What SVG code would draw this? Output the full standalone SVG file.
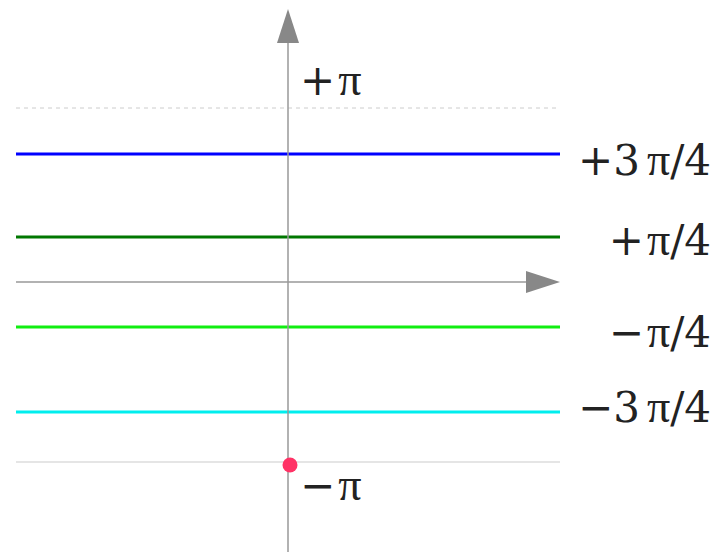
<svg xmlns="http://www.w3.org/2000/svg" width="713" height="552" viewBox="0 0 713 552">
<style>
.lbl{font-family:"DejaVu Serif",serif;fill:#222;font-size:42px}
.pi{font-family:"Liberation Serif",serif;font-size:46px}
.lvl{stroke-width:3;fill:none}
.ax{stroke:#999;stroke-width:1.5;fill:none}
</style>
<defs>
<marker id="ah" viewBox="0 0 34 22" refX="0" refY="11" markerWidth="34" markerHeight="22" markerUnits="userSpaceOnUse" orient="auto">
<path d="M0,0 L34,11 L0,22 Z" fill="#888"/>
</marker>
</defs>
<g id="grid">
<line x1="16" y1="108" x2="560" y2="108" stroke="#ccc" stroke-width="1" stroke-dasharray="4,4"/>
<line x1="16" y1="462" x2="560" y2="462" stroke="#ccc" stroke-width="1.2"/>
</g>
<g id="levels">
<line id="l3p4" class="lvl" x1="16" y1="154" x2="560" y2="154" stroke="#0000ff"/>
<line id="lp4" class="lvl" x1="16" y1="237" x2="560" y2="237" stroke="#007700"/>
<line id="lm4" class="lvl" x1="16" y1="327" x2="560" y2="327" stroke="#11ee11"/>
<line id="lm3p4" class="lvl" x1="16" y1="412" x2="560" y2="412" stroke="#00eeee"/>
</g>
<g id="axes">
<line class="ax" x1="288" y1="552" x2="288" y2="43" marker-end="url(#ah)"/>
<line class="ax" x1="16" y1="282" x2="526" y2="282" marker-end="url(#ah)"/>
</g>
<g id="point">
<circle cx="290" cy="465" r="7.5" fill="#ff3366"/>
</g>
<g id="labels">
<text class="lbl" x="300" y="95">+<tspan class="pi" dx="3">π</tspan></text>
<text class="lbl" x="711" y="175" text-anchor="end">+3<tspan class="pi" dx="7">π</tspan>/4</text>
<text class="lbl" x="711" y="255" text-anchor="end">+<tspan class="pi" dx="3">π</tspan>/4</text>
<text class="lbl" x="711" y="347" text-anchor="end">−<tspan class="pi" dx="3">π</tspan>/4</text>
<text class="lbl" x="711" y="422" text-anchor="end">−3<tspan class="pi" dx="7">π</tspan>/4</text>
<text class="lbl" x="300" y="500">−<tspan class="pi" dx="3">π</tspan></text>
</g>
</svg>
